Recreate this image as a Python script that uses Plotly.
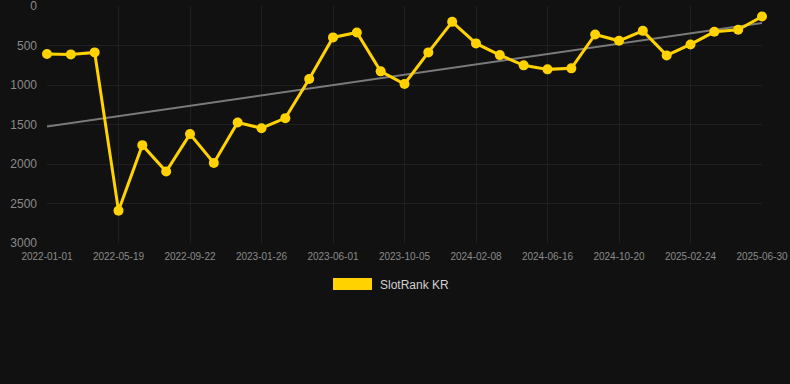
import numpy as np
import plotly.graph_objects as go

dates = [
    "2022-01-01", "2022-02-16", "2022-04-02", "2022-05-19", "2022-06-30", "2022-08-11",
    "2022-09-22", "2022-11-03", "2022-12-15", "2023-01-26", "2023-03-09", "2023-04-20",
    "2023-06-01", "2023-07-13", "2023-08-24", "2023-10-05", "2023-11-16", "2023-12-28",
    "2024-02-08", "2024-03-21", "2024-05-03", "2024-06-16", "2024-07-28", "2024-09-08",
    "2024-10-20", "2024-12-01", "2025-01-13", "2025-02-24", "2025-04-08", "2025-05-19",
    "2025-06-30",
]
rank = [
    605, 610, 585, 2590, 1760, 2095, 1620, 1985, 1473, 1545, 1418, 922,
    395, 333, 825, 985, 585, 198, 471, 619, 749, 800, 787, 358,
    438, 312, 623, 484, 324, 299, 130,
]
tick_labels = dates[::3]
y_ticks = [0, 500, 1000, 1500, 2000, 2500, 3000]
series_name = "SlotRank KR"

idx = np.arange(len(rank))
slope, intercept = np.polyfit(idx, rank, 1)
trend = slope * idx + intercept

BG = "#111111"
GOLD = "#FFD200"
GRID = "#202020"
TICK = "#8a8a8a"
FONT = "Liberation Sans, Arial, sans-serif"

fig = go.Figure()
fig.add_trace(go.Scatter(
    x=dates, y=trend, mode="lines",
    line=dict(color="#7a7a7a", width=2),
    showlegend=False, hoverinfo="skip", cliponaxis=False,
))
fig.add_trace(go.Scatter(
    x=dates, y=rank, mode="lines+markers", name=series_name,
    line=dict(color=GOLD, width=3),
    marker=dict(color=GOLD, size=10),
    showlegend=False, cliponaxis=False,
))

# legend (manual: wide colour box + label)
fig.add_shape(type="rect", xref="paper", yref="paper",
              x0=(333 - 47) / 715, x1=(372 - 47) / 715,
              y0=(243 - 290) / 237, y1=(243 - 278) / 237,
              fillcolor=GOLD, line=dict(width=0))
fig.add_annotation(xref="paper", yref="paper",
                   x=(378 - 47) / 715, y=(243 - 284.5) / 237,
                   xanchor="left", yanchor="middle", showarrow=False,
                   text=series_name, font=dict(family=FONT, size=12, color="#d0d0d0"))

fig.update_layout(
    width=790, height=384,
    margin=dict(l=47, r=28, t=6, b=141),
    paper_bgcolor=BG, plot_bgcolor=BG,
    font=dict(family=FONT),
    showlegend=False,
)
fig.update_xaxes(
    type="category", range=[0, len(dates) - 1],
    tickmode="array", tickvals=tick_labels, ticktext=tick_labels,
    tickfont=dict(size=10, color=TICK), tickangle=0,
    showgrid=True, gridcolor=GRID, gridwidth=1,
    zeroline=False, showline=False, ticks="", ticklabelstandoff=6,
    ticklabeloverflow="allow", automargin=False,
)
fig.update_yaxes(
    range=[3000, -3], tickmode="array", tickvals=y_ticks,
    tickfont=dict(size=12, color=TICK),
    showgrid=True, gridcolor=GRID, gridwidth=1,
    zeroline=False, showline=False, ticks="", ticklabelstandoff=9,
    ticklabeloverflow="allow", automargin=False,
)

fig.write_html(
    "out.html",
    config={"displayModeBar": False},
    post_script="document.body.style.margin='0';document.body.style.background='#111111';",
)
